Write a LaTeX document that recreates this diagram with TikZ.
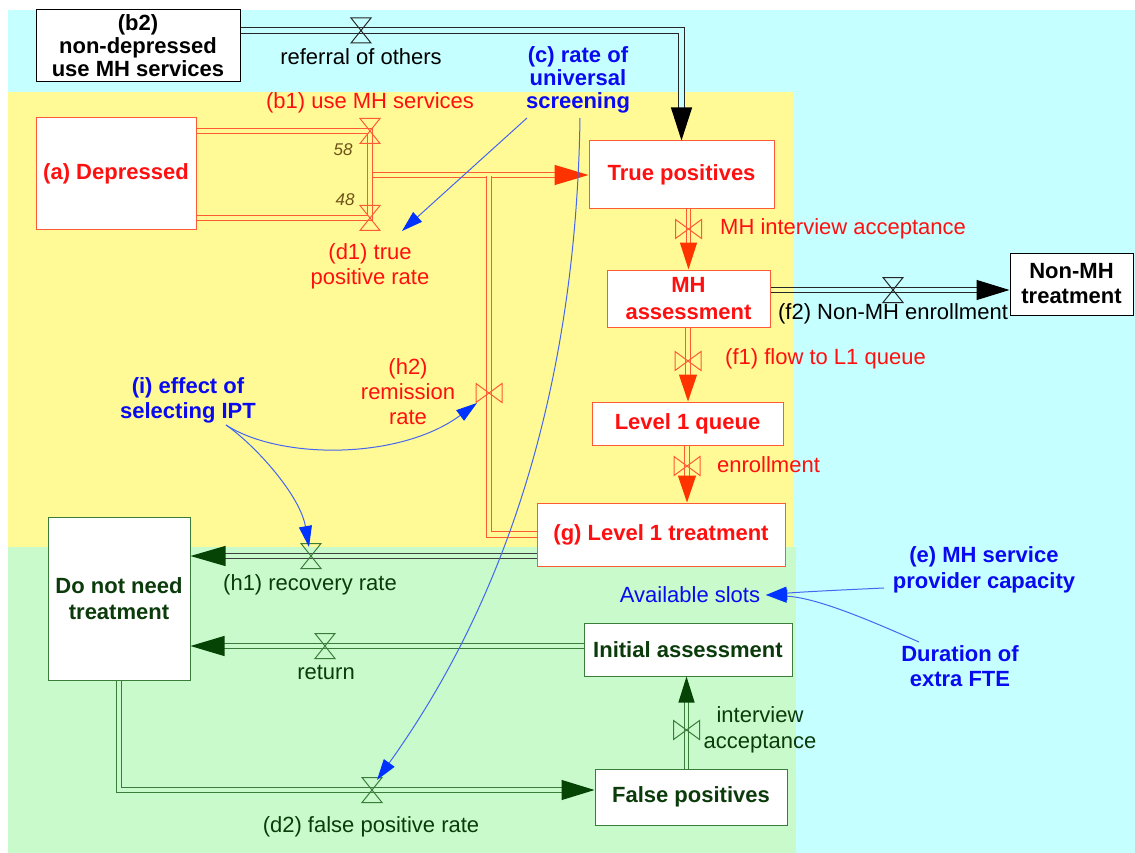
\documentclass[tikz,border=0pt]{standalone}
\usepackage{fontspec}
\setmainfont{Liberation Sans}
\usetikzlibrary{arrows.meta,calc}
\definecolor{cyanbg}{HTML}{C6FFFF}
\definecolor{yellowbg}{HTML}{FFFA96}
\definecolor{greenbg}{HTML}{C8FACB}
\definecolor{pipered}{HTML}{FF5A36}
\definecolor{arrred}{HTML}{FF3300}
\definecolor{txtred}{HTML}{FF1010}
\definecolor{dkgreen}{HTML}{0B3B0B}
\definecolor{grnline}{HTML}{3A7D3A}
\definecolor{arrgreen}{HTML}{064406}
\definecolor{txtblue}{HTML}{0A0AF0}
\definecolor{linkblue}{HTML}{4466F0}
\definecolor{arrblue}{HTML}{0033FF}
\definecolor{brownish}{HTML}{6E5418}
\definecolor{wallgray}{HTML}{404040}
\tikzset{
  T/.style={inner sep=0pt, align=center, font=\fontsize{22}{24}\selectfont},
  TB/.style={inner sep=0pt, align=center, font=\fontsize{22}{24}\selectfont\bfseries},
  box/.style={TB, draw, fill=white, line width=1pt},
  pipe/.style={line width=1.2pt, double distance=4.4pt},
  thinpipe/.style={line width=1.2pt, double distance=3.2pt},
  redpipe/.style={pipe, draw=pipered, double=yellowbg},
  redthin/.style={thinpipe, draw=pipered, double=yellowbg},
  grnpipe/.style={pipe, draw=grnline, double=greenbg},
  grnthin/.style={thinpipe, draw=grnline, double=greenbg},
  bigtip/.style={-{Triangle[length=33pt,width=21pt,color=black]}},
  redtip/.style={-{Triangle[length=27pt,width=18pt,color=arrred]}},
  link/.style={draw=linkblue, line width=1pt, -{Triangle[length=21pt,width=13pt,color=arrblue]}},
  hg/.pic={\draw[pic actions] (-10,-12.5) -- (10,-12.5) -- (-10,12.5) -- (10,12.5) -- cycle;},
  bt/.pic={\draw[pic actions] (-13,-9.5) -- (-13,9.5) -- (13,-9.5) -- (13,9.5) -- cycle;}
}
\begin{document}
\begin{tikzpicture}[x=1pt,y=-1pt]
\useasboundingbox (0,0) rectangle (1135,853);
\fill[white] (0,0) rectangle (1135,853);
\fill[cyanbg] (8,10) rectangle (1135,853);
\fill[yellowbg] (8,92) rectangle (793,547);
\fill[greenbg] (8,547) rectangle (796,853);

% valve coordinates
\coordinate (vref) at (361,30.5);
\coordinate (vb1) at (370,131);
\coordinate (vd1) at (370,218);
\coordinate (jn) at (372.5,175);
\coordinate (vh2) at (489,393);
\coordinate (vmha) at (688.5,229);
\coordinate (vf2) at (893,290);
\coordinate (vf1) at (688,361);
\coordinate (ven) at (687,466);
\coordinate (vh1) at (311,556);
\coordinate (vret) at (325,646);
\coordinate (vd2) at (372,790);
\coordinate (via) at (686.5,730);

% stocks
\node[box, draw=black, text=black, minimum width=204pt, minimum height=72pt,
  font=\fontsize{22}{23}\selectfont\bfseries] (b2) at (138,46) {(b2)\\non-depressed\\use MH services};
\node[box, draw=pipered, text=txtred, minimum width=160pt, minimum height=112pt] (dep) at (116,174) {(a) Depressed};
\node[box, draw=pipered, text=txtred, minimum width=185pt, minimum height=68pt] (tp) at (681.5,175) {True positives};
\node[box, draw=pipered, text=txtred, minimum width=163pt, minimum height=57pt,
  font=\fontsize{22}{27}\selectfont\bfseries] (mh) at (688.5,298.5) {MH\\assessment};
\node[box, draw=black, text=black, minimum width=123pt, minimum height=62pt,
  font=\fontsize{22}{25}\selectfont\bfseries] (nonmh) at (1071.5,284) {Non-MH\\treatment};
\node[box, draw=pipered, text=txtred, minimum width=191pt, minimum height=43pt] (l1q) at (687.5,423.5) {Level 1 queue};
\node[box, draw=pipered, text=txtred, minimum width=248pt, minimum height=63pt] (l1t) at (661,534.5) {(g) Level 1 treatment};
\node[box, draw=grnline, text=dkgreen, minimum width=142pt, minimum height=163pt,
  font=\fontsize{22}{26}\selectfont\bfseries] (dnn) at (119,598.5) {Do not need\\treatment};
\node[box, draw=grnline, text=dkgreen, minimum width=208pt, minimum height=53pt] (ia) at (688,649.5) {Initial assessment};
\node[box, draw=grnline, text=dkgreen, minimum width=192pt, minimum height=56pt] (fp) at (691,797) {False positives};

% flows (pipes)
\draw[pipe, draw=black!85, double=cyanbg, bigtip] (b2.east |- vref) -- (vref -| tp.north) -- (tp.north);
\draw[redpipe] (dep.east |- vb1) -- (vb1) -- (vd1) -- (dep.east |- vd1);
\draw[redpipe, -{Triangle[length=34pt,width=20pt,color=arrred]}] (jn) -- (tp.west);
\draw[redpipe] (l1t.west) -- (l1t.west -| vh2) -- ($(vh2 |- jn)+(0,1.5)$);
\draw[redthin, -{Triangle[length=27pt,width=17pt,color=arrred]}] (vmha |- tp.south) -- (vmha |- mh.north);
\draw[pipe, draw=black!85, double=cyanbg, -{Triangle[length=33pt,width=20pt,color=black]}] (mh.east |- vf2) -- (nonmh.west |- vf2);
\draw[yellowbg, line width=4.4pt] (mh.east |- vf2) -- (792.5,290);
\draw[redthin, redtip] (vf1 |- mh.south) -- (vf1 |- l1q.north);
\draw[redthin, redtip] (ven |- l1q.south) -- (ven |- l1t.north);
\draw[pipe, draw=wallgray, double=greenbg, -{Triangle[length=35pt,width=20pt,color=arrgreen]}] (l1t.west |- vh1) -- (dnn.east |- vh1);
\draw[grnpipe, -{Triangle[length=34pt,width=20pt,color=arrgreen]}] (ia.west |- vret) -- (dnn.east |- vret);
\draw[grnpipe, -{Triangle[length=33pt,width=20pt,color=arrgreen]}] (dnn.south) -- (dnn.south |- vd2) -- (fp.west |- vd2);
\draw[grnthin, -{Triangle[length=26pt,width=16pt,color=arrgreen]}] (via |- fp.north) -- (via |- ia.south);

% valves
\pic[draw=black!85, line width=1pt] at (vref) {hg};
\pic[draw=pipered, line width=1pt] at (vb1) {hg};
\pic[draw=pipered, line width=1pt] at (vd1) {hg};
\pic[draw=pipered, line width=1pt] at (vmha) {bt};
\pic[draw=pipered, line width=1pt] at (vf1) {bt};
\pic[draw=pipered, line width=1pt] at (ven) {bt};
\pic[draw=pipered, line width=1pt] at (vh2) {bt};
\pic[draw=black!85, line width=1pt] at (vf2) {hg};
\pic[draw=grnline, line width=1pt] at (vh1) {hg};
\pic[draw=grnline, line width=1pt] at (vret) {hg};
\pic[draw=grnline, line width=1pt] at (vd2) {hg};
\pic[draw=grnline, line width=1pt] at (via) {bt};

% flow labels
\node[T, text=black] (lref) at (361,57) {referral of others};
\node[T, text=txtred] (lb1) at (370,103) {(b1) use MH services};
\node[T, text=brownish, font=\fontsize{17}{20}\selectfont\itshape] (l58) at (343,150) {58};
\node[T, text=brownish, font=\fontsize{17}{20}\selectfont\itshape] (l48) at (345,200) {48};
\node[T, text=txtred, font=\fontsize{22}{25}\selectfont] (ld1) at (370,266) {(d1) true\\positive rate};
\node[T, text=txtred, anchor=west] (lmha) at (720,229) {MH interview acceptance};
\node[T, text=black] (lf2) at (893,314) {(f2) Non-MH enrollment};
\node[T, text=txtred, anchor=west] (lf1) at (725,359) {(f1) flow to L1 queue};
\node[T, text=txtred, anchor=west] (len) at (717,465) {enrollment};
\node[T, text=txtred, font=\fontsize{22}{25}\selectfont] (lh2) at (408,392) {(h2)\\remission\\rate};
\node[T, text=dkgreen] (lh1) at (310,585) {(h1) recovery rate};
\node[T, text=dkgreen] (lret) at (326,672) {return};
\node[T, text=dkgreen] (ld2) at (371,827) {(d2) false positive rate};
\node[T, text=dkgreen, font=\fontsize{22}{26}\selectfont] (lia) at (760,730) {interview\\acceptance};

% auxiliaries
\node[TB, text=txtblue, font=\fontsize{22}{23}\selectfont\bfseries] (lc) at (578,80) {(c) rate of\\universal\\screening};
\node[TB, text=txtblue, font=\fontsize{22}{25}\selectfont\bfseries] (li) at (188,400) {(i) effect of\\selecting IPT};
\node[T, text=txtblue] (lslots) at (690,595) {Available slots};
\node[TB, text=txtblue, font=\fontsize{22}{26}\selectfont\bfseries] (le) at (984,570) {(e) MH service\\provider capacity};
\node[TB, text=txtblue, font=\fontsize{22}{25}\selectfont\bfseries] (ldur) at (960,666) {Duration of\\extra FTE};

% link coordinates
\coordinate (cA) at (527,118);
\coordinate (cB) at (580,118);
\coordinate (d1in) at (402,231);
\coordinate (d2in) at (377,780);
\coordinate (iA) at (226,425);
\coordinate (h2in) at (477,403);
\coordinate (h1in) at (309,547);
\coordinate (eA) at (884,588);
\coordinate (durA) at (919,642);
\coordinate (slotsin) at (766,595);

% links
\draw[link] (cA) -- (d1in);
\draw[link] (cB) .. controls (575,450) and (470,650) .. (d2in);
\draw[link] (iA) .. controls (280,460) and (400,460) .. (h2in);
\draw[link] (iA) .. controls (255,445) and (300,495) .. (h1in);
\draw[link] (eA) .. controls (840,590) and (800,592) .. (slotsin);
\draw[link] (durA) .. controls (880,625) and (820,598) .. (slotsin);
\end{tikzpicture}
\end{document}
